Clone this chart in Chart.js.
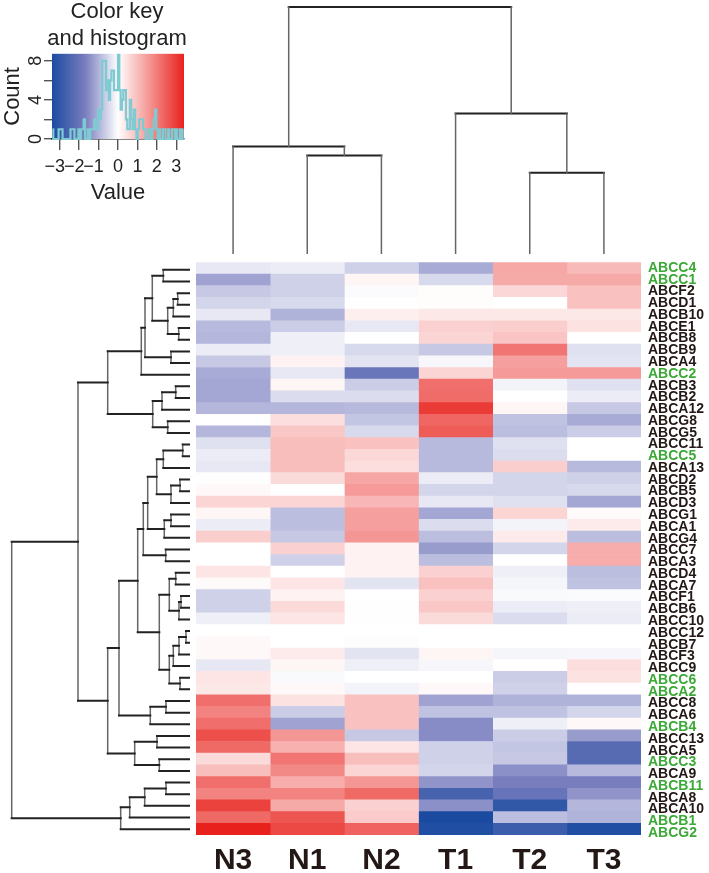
<!DOCTYPE html>
<html>
<head>
<meta charset="utf-8">
<title>ABC transporter heatmap</title>
<script src="https://cdn.jsdelivr.net/npm/chart.js@4"></script>
<style>
  html, body { margin: 0; background: #fff; }
  #page { position: relative; width: 709px; height: 873px; overflow: hidden; }
  canvas { position: absolute; }
</style>
</head>
<body>
<div id="page">
  <canvas id="heat" width="709" height="873" style="left:0;top:0"></canvas>
  <canvas id="genes" width="109" height="577" style="left:600px;top:262px"></canvas>
  <canvas id="colTree" width="445" height="254" style="left:196px;top:0"></canvas>
  <canvas id="rowTree" width="190" height="571" style="left:0;top:264px"></canvas>
  <canvas id="key" width="234" height="209" style="left:0;top:-3px"></canvas>
</div>
<script>
const samples = ['N3', 'N1', 'N2', 'T1', 'T2', 'T3'];
const genes = ['ABCC4','ABCC1','ABCF2','ABCD1','ABCB10','ABCE1','ABCB8','ABCB9','ABCA4','ABCC2',
  'ABCB3','ABCB2','ABCA12','ABCG8','ABCG5','ABCC11','ABCC5','ABCA13','ABCD2','ABCB5',
  'ABCD3','ABCG1','ABCA1','ABCG4','ABCC7','ABCA3','ABCD4','ABCA7','ABCF1','ABCB6',
  'ABCC10','ABCC12','ABCB7','ABCF3','ABCC9','ABCC6','ABCA2','ABCC8','ABCA6','ABCB4',
  'ABCC13','ABCA5','ABCC3','ABCA9','ABCB11','ABCA8','ABCA10','ABCB1','ABCG2'];
const greenGenes = ['ABCC4','ABCC1','ABCC2','ABCC5','ABCC6','ABCA2','ABCB4','ABCC3','ABCB11','ABCB1','ABCG2'];

// z-scores per sample, same order as genes
const valuesN3 = [-0.3,-1.2,-0.7,-0.55,-0.3,-0.9,-0.95,-0.25,-0.7,-1.1,-1.15,-1.15,-0.95,0,-0.95,-0.4,-0.25,-0.3,0.02,0.1,0.65,0.15,-0.25,0.75,0,0,0.4,0.07,-0.6,-0.6,-0.2,0,0.1,0.1,-0.3,0.4,0.35,2.2,1.9,2.2,2.7,2.3,0.55,1.0,2.2,1.9,2.9,2.3,3.4];
const valuesN1 = [-0.25,-0.6,-0.6,-0.5,-1.0,-0.65,-0.2,-0.2,0.2,-0.3,0.15,-0.45,-0.95,0.5,0.85,1.0,1.0,1.0,0.55,0.02,0.65,-0.85,-0.85,-0.7,0.7,-0.6,0,0.4,0.2,0.55,0.4,0,0,0.3,0.15,-0.07,0.1,0.45,-0.65,-1.2,1.6,1.2,2.1,1.8,1.25,1.9,1.3,2.6,2.8];
const valuesN2 = [-0.6,0.15,-0.05,0.02,0.25,-0.3,0,-0.5,-0.35,-1.95,-0.65,-0.45,-0.9,-0.75,-0.5,0.95,0.6,0.5,1.35,1.55,1.1,1.45,1.45,1.6,0.2,0.2,0.2,-0.35,0,0.02,0.02,0,-0.03,-0.35,-0.2,0,-0.15,0.95,0.95,0.95,-0.7,0.4,1.0,0.65,1.6,2.3,0.7,0.8,2.4];
const valuesT1 = [-1.1,-0.5,0.05,0.05,0.35,0.7,0.65,-0.7,-0.1,0.65,2.2,2.25,3.0,2.35,2.5,-0.9,-0.9,-0.9,-0.25,-0.55,-0.3,-1.15,-0.45,-0.85,-1.3,-0.85,0.7,0.95,0.7,0.85,0.55,0,0,0.15,-0.1,0,0.1,-1.2,-0.8,-1.5,-1.5,-0.6,-0.6,-0.55,-1.4,-2.6,-1.45,-3.4,-3.3];
const valuesT2 = [1.33,1.3,0.6,0,0.35,0.75,0.9,2.1,1.45,1.55,-0.15,0,0.15,-0.8,-0.85,-0.4,-0.45,0.75,-0.55,-0.55,-0.4,0.65,-0.15,0.3,-0.55,0,-0.2,-0.12,-0.07,-0.25,-0.45,0,0,-0.12,0,-0.65,-0.6,-1.0,-0.8,-0.2,-0.65,-0.75,-0.7,-1.45,-1.7,-2.0,-3.0,-0.85,-2.8];
const valuesT3 = [1.05,1.3,0.95,0.95,0.35,0.45,0,-0.4,-0.35,1.55,-0.4,-0.25,-0.7,-1.1,-0.65,0,0,-0.9,-0.6,-0.5,-1.15,0.07,0.3,-0.85,1.25,1.25,-0.85,-0.8,-0.05,-0.2,-0.25,0,0,-0.1,0.5,0.45,0.03,-1.0,-0.55,0.1,-1.3,-2.3,-2.3,-0.9,-1.7,-1.4,-0.95,-1.0,-3.3];
const sampleValues = [valuesN3, valuesN1, valuesN2, valuesT1, valuesT2, valuesT3];

// hclust style trees: negative = leaf number, positive = earlier merge number
const colMerge = [[-2,-3],[-1,1],[-5,-6],[-4,3],[2,4]];
const colHeights = [98, 107, 81, 140, 246];
const rowMerge = [[-1,-2],[-3,-4],[2,-5],[-6,-7],[3,4],[1,5],[-8,-9],[6,7],[8,-10],[-11,-12],
  [10,-13],[-14,-15],[11,12],[9,13],[-16,-17],[15,-18],[-19,-20],[17,-21],[16,18],[-22,-23],
  [20,-24],[19,21],[-25,-26],[22,23],[-27,-28],[-29,-30],[26,-31],[25,27],[-32,-33],[29,-34],
  [30,-35],[-36,-37],[31,32],[28,33],[24,34],[-38,-39],[36,-40],[35,37],[-41,-42],[-43,-44],
  [39,40],[38,41],[14,42],[-45,-46],[44,-47],[45,-48],[46,-49],[43,47]];
const rowHeights = [26.7,12.3,16.7,11.3,22.3,37.7,19,45,48.7,14.3,
  28,22.3,37.3,82.3,7.3,26.7,10,19,33.3,19,
  25.7,42.3,24.3,46.7,14.3,9,11,20.7,4,11,
  16.7,10,20.7,30.7,52.3,24,39.7,71,33,30.7,
  55.3,82.3,112,24,45.3,60.3,69.3,178.3];

// histogram of the z-scores, 100 bins between keyMin and keyMax
const keyMin = -3.4, keyMax = 3.4;
const histCounts = [1,0,0,0,0,1,1,1,0,0,0,0,0,0,1,1,1,0,0,0,
  1,0,1,1,2,0,0,1,0,1,1,1,2,1,1,3,2,3,8,8,
  8,5,6,4,6,7,7,5,5,5,9,5,3,4,5,5,2,1,1,4,
  2,1,3,1,0,1,2,2,2,1,1,0,0,1,1,0,1,2,3,1,
  0,1,0,0,1,1,0,0,1,0,0,1,1,0,1,0,0,1,0,1];

Chart.defaults.animation = false;
Chart.defaults.responsive = false;
Chart.defaults.font.family = '"Liberation Sans", Arial, sans-serif';
Chart.defaults.plugins.legend.display = false;
Chart.defaults.plugins.tooltip.enabled = false;

const textColor = '#231815';
const greenColor = '#3aa935';

// Colour scale of the key
const colorStops = [
  [-3.4, [27, 75, 160]],
  [-1.7, [120, 125, 190]],
  [0, [255, 255, 255]],
  [3.4, [232, 33, 28]]
];
function colorFor(v) {
  for (let i = 1; i < colorStops.length; i++) {
    if (v <= colorStops[i][0]) {
      const [v0, c0] = colorStops[i - 1], [v1, c1] = colorStops[i];
      const t = Math.max(0, (v - v0) / (v1 - v0));
      return 'rgb(' + c0.map((c, k) => Math.round(c + (c1[k] - c) * t)).join(',') + ')';
    }
  }
  return 'rgb(232,33,28)';
}

// Heatmap, one stacked dataset per sample
new Chart(document.getElementById('heat'), {
  type: 'bar',
  data: {
    labels: genes,
    datasets: samples.map((s, i) => ({
      label: s,
      data: genes.map(() => 1),
      backgroundColor: ctx => colorFor(sampleValues[i][ctx.dataIndex]),
      borderWidth: 0,
      barPercentage: 1,
      categoryPercentage: 1
    }))
  },
  options: {
    indexAxis: 'y',
    layout: { padding: { left: 196, top: 262.3, right: 68 } },
    scales: {
      y: { display: false, stacked: true },
      x: {
        type: 'linear', stacked: true, min: 0, max: samples.length,
        afterBuildTicks: s => { s.ticks = samples.map((_, i) => ({ value: i + 0.5 })); },
        afterFit: s => { s.height = 38; },
        grid: { display: false },
        border: { display: false },
        ticks: {
          autoSkip: false, maxRotation: 0, padding: 0, color: textColor,
          font: { size: 30, weight: 'bold' },
          callback: v => samples[v - 0.5]
        }
      }
    }
  }
});

// Gene names sit on a slightly longer axis than the rows
new Chart(document.getElementById('genes'), {
  type: 'bar',
  data: { labels: genes, datasets: [] },
  options: {
    indexAxis: 'y',
    scales: {
      x: { display: false },
      y: {
        type: 'category', labels: genes, position: 'right', offset: true,
        afterFit: s => { s.width = 68; s.paddingTop = 0; s.paddingBottom = 0; },
        grid: { display: false, drawTicks: false },
        border: { display: false },
        ticks: {
          autoSkip: false, padding: 7,
          font: { size: 14, weight: 'bold' },
          color: c => greenGenes.includes(genes[c.index]) ? greenColor : textColor
        }
      }
    }
  }
});

// Turn a merge table into legs and bars of (position, height)
function treeSegments(merge, heights) {
  const pos = [], legs = [], bars = [];
  merge.forEach(([a, b], m) => {
    const pa = a < 0 ? -a - 0.5 : pos[a - 1];
    const pb = b < 0 ? -b - 0.5 : pos[b - 1];
    const ha = a < 0 ? 0 : heights[a - 1];
    const hb = b < 0 ? 0 : heights[b - 1];
    const h = heights[m];
    pos[m] = (pa + pb) / 2;
    legs.push([pa, ha], [pa, h], null, [pb, hb], [pb, h], null);
    bars.push([pa, h], [pb, h], null);
  });
  return { legs, bars };
}

function treeChart(id, merge, heights, horizontal, scales) {
  const seg = treeSegments(merge, heights);
  const toPoints = list => list.map(p => {
    if (!p) return { x: null, y: null };
    return horizontal ? { x: p[1], y: p[0] } : { x: p[0], y: p[1] };
  });
  const line = (data, isDark) => ({
    data: toPoints(data),
    showLine: true,
    pointRadius: 0,
    borderCapStyle: 'square',
    borderColor: isDark ? '#222222' : '#666666',
    borderWidth: isDark ? 2 : 1.5,
    clip: false
  });
  new Chart(document.getElementById(id), {
    type: 'scatter',
    data: { datasets: [line(seg.legs, horizontal), line(seg.bars, !horizontal)] },
    options: { scales }
  });
}

treeChart('colTree', colMerge, colHeights, false, {
  x: { display: false, min: 0, max: samples.length },
  y: { display: false, min: 0, max: 253 }
});
treeChart('rowTree', rowMerge, rowHeights, true, {
  x: { display: false, min: 0, max: 190, reverse: true },
  y: { display: false, min: 0, max: genes.length, reverse: true }
});

// Colour key with the histogram on top
const keyPaint = {
  id: 'keyPaint',
  beforeDatasetsDraw(chart) {
    const { ctx, chartArea: a, scales: { x } } = chart;
    const grad = ctx.createLinearGradient(x.getPixelForValue(keyMin), 0, x.getPixelForValue(keyMax), 0);
    colorStops.forEach(([v]) => grad.addColorStop((v - keyMin) / (keyMax - keyMin), colorFor(v)));
    ctx.save();
    ctx.fillStyle = grad;
    ctx.fillRect(a.left, a.top, a.width, a.height);
    ctx.restore();
  }
};
const binWidth = (keyMax - keyMin) / histCounts.length;
new Chart(document.getElementById('key'), {
  type: 'scatter',
  data: {
    datasets: [{
      data: histCounts.map((c, i) => ({ x: keyMin + (i + 0.5) * binWidth, y: c })),
      showLine: true,
      stepped: 'middle',
      pointRadius: 0,
      borderColor: '#7ecbd3',
      borderWidth: 2.2,
      clip: { left: 0, right: 0, top: 0, bottom: 1 }
    }]
  },
  options: {
    plugins: {
      title: {
        display: true,
        text: ['Color key', 'and histogram'],
        color: '#222',
        font: { size: 22, weight: 'normal' },
        padding: { top: 2, bottom: 2 }
      }
    },
    scales: {
      x: {
        min: keyMin, max: keyMax,
        afterFit: s => { s.height = 67; },
        grid: { drawOnChartArea: false, color: '#555', tickLength: 11, lineWidth: 1.4 },
        border: { display: true, color: '#111', width: 1.5 },
        title: { display: true, text: 'Value', color: '#222', font: { size: 22 }, padding: 0 },
        ticks: {
          stepSize: 1, includeBounds: false, autoSkip: false, maxRotation: 0, padding: 6,
          color: '#222', font: { size: 18 },
          // negative labels sit left of their tick in the original key
          callback: v => (v < 0 ? '\u2212' + (-v) + '\u00a0\u00a0' : String(v))
        }
      },
      y: {
        min: 0, max: 8.72,
        afterFit: s => { s.width = 52; },
        grid: { drawOnChartArea: false, color: '#555', tickLength: 8, lineWidth: 1.4 },
        border: { display: false },
        title: { display: true, text: 'Count', color: '#222', font: { size: 22 }, padding: 0 },
        ticks: {
          stepSize: 2, includeBounds: false, crossAlign: 'center', padding: 3,
          minRotation: 90, maxRotation: 90,
          color: '#222', font: { size: 18 },
          callback: v => (v % 4 === 0 ? String(v) : '')
        }
      },
      // empty right axis keeps the title centred over the whole key block
      spare: {
        type: 'linear', position: 'right', display: true,
        afterFit: s => { s.width = 50; },
        grid: { display: false },
        border: { display: false },
        ticks: { display: false }
      }
    }
  },
  plugins: [keyPaint]
});
</script>
</body>
</html>
